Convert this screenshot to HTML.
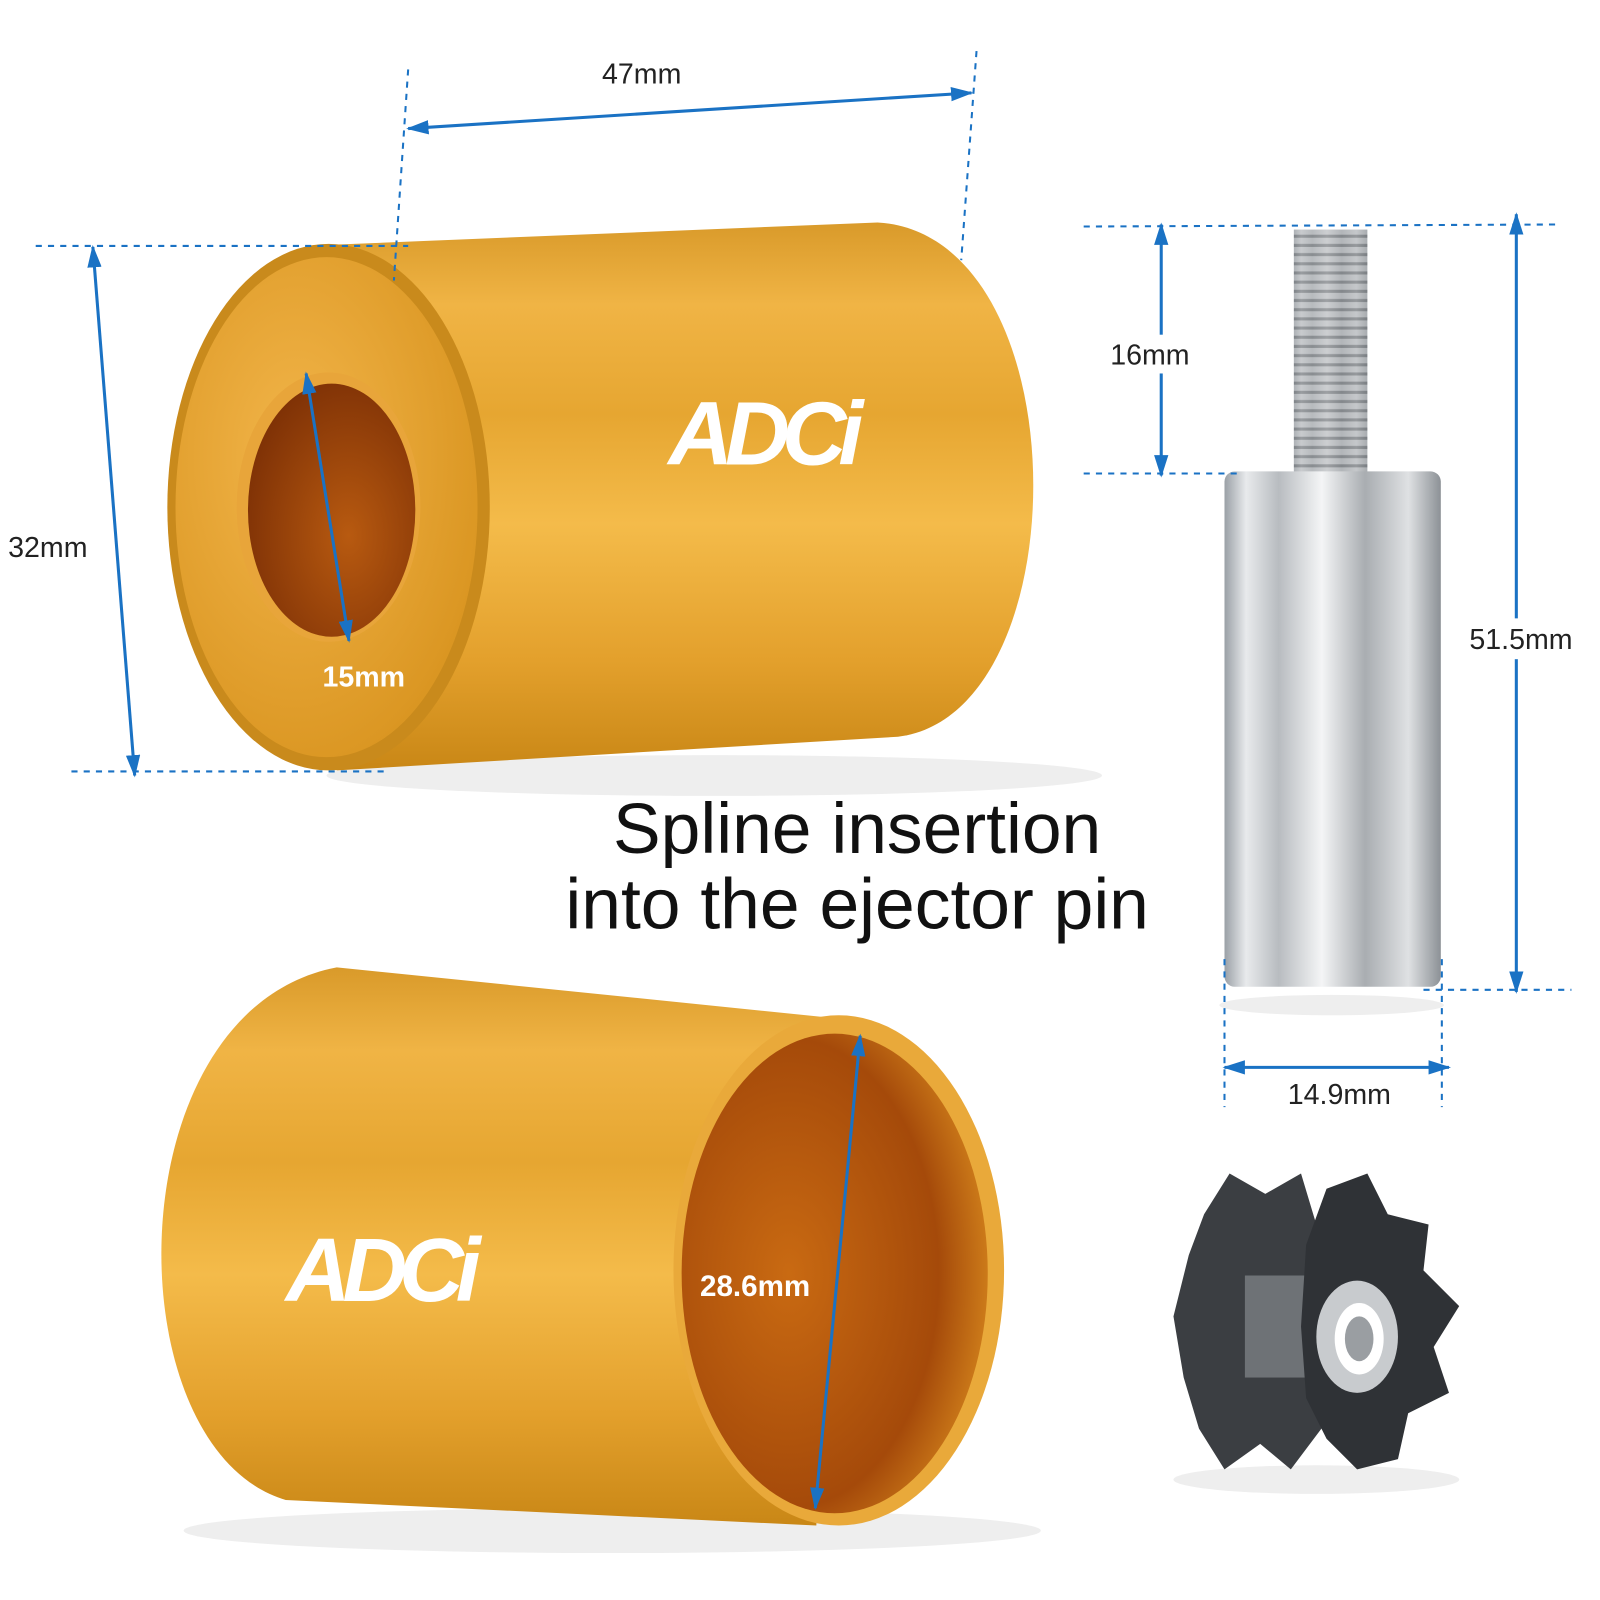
<!DOCTYPE html>
<html><head><meta charset="utf-8"><style>
html,body{margin:0;padding:0;background:#fff;}
svg{display:block}
text{font-family:"Liberation Sans",sans-serif}
</style></head><body>
<svg width="1600" height="1600" viewBox="0 0 1568 1568" xmlns="http://www.w3.org/2000/svg">
<defs>
<linearGradient id="gold" x1="0" y1="0" x2="0" y2="1">
<stop offset="0" stop-color="#d99a2a"/><stop offset="0.15" stop-color="#f0b445"/><stop offset="0.35" stop-color="#e6a631"/><stop offset="0.55" stop-color="#f4bb4a"/><stop offset="0.8" stop-color="#e3a02c"/><stop offset="1" stop-color="#c98716"/>
</linearGradient>
<radialGradient id="face" cx="0.4" cy="0.4" r="0.7">
<stop offset="0" stop-color="#f2b54a"/><stop offset="1" stop-color="#d8931e"/>
</radialGradient>
<radialGradient id="hole" cx="0.6" cy="0.6" r="0.7">
<stop offset="0" stop-color="#b85a10"/><stop offset="1" stop-color="#7a2e05"/>
</radialGradient>
<radialGradient id="inner" cx="0.35" cy="0.5" r="0.7">
<stop offset="0" stop-color="#c96a12"/><stop offset="0.7" stop-color="#a54a0a"/><stop offset="1" stop-color="#d8891e"/>
</radialGradient>
<linearGradient id="silver" x1="0" y1="0" x2="1" y2="0">
<stop offset="0" stop-color="#9aa0a6"/><stop offset="0.1" stop-color="#e8eaec"/><stop offset="0.25" stop-color="#b8bcc0"/><stop offset="0.45" stop-color="#f4f5f6"/><stop offset="0.65" stop-color="#a9adb1"/><stop offset="0.85" stop-color="#dfe1e3"/><stop offset="1" stop-color="#8c9196"/>
</linearGradient>
<pattern id="thr" width="10" height="9" patternUnits="userSpaceOnUse">
<rect width="10" height="9" fill="#b7babd"/><rect y="5" width="10" height="3" fill="#6f7377"/>
</pattern>
<marker id="ar" markerWidth="22" markerHeight="14" refX="20" refY="7" orient="auto-start-reverse" markerUnits="userSpaceOnUse">
<path d="M0,0 L22,7 L0,14 z" fill="#1a72c4"/></marker>
</defs>

<ellipse cx="700" cy="760" rx="380" ry="20" fill="#eee"/>
<path d="M322,240 L860,218 C1060,230 1060,700 880,722 L330,755 z" fill="url(#gold)"/>
<ellipse cx="322" cy="497" rx="158" ry="258" fill="#c98a1c"/>
<ellipse cx="320" cy="497" rx="148" ry="245" fill="url(#face)"/>
<ellipse cx="322" cy="497" rx="90" ry="132" fill="#e8a53a"/>
<ellipse cx="325" cy="500" rx="82" ry="124" fill="url(#hole)"/>
<text x="655" y="455" font-size="88" font-weight="bold" fill="#fff" font-style="italic" letter-spacing="-8">ADCi</text>

<ellipse cx="600" cy="1500" rx="420" ry="22" fill="#eee"/>
<path d="M330,948 L820,998 L800,1495 L280,1470 C110,1420 110,990 330,948 z" fill="url(#gold)"/>
<ellipse cx="822" cy="1245" rx="162" ry="250" fill="#e9a93a"/>
<ellipse cx="818" cy="1248" rx="150" ry="235" fill="url(#inner)"/>
<text x="280" y="1275" font-size="88" font-weight="bold" fill="#fff" font-style="italic" letter-spacing="-8">ADCi</text>

<rect x="1268" y="225" width="72" height="240" fill="url(#thr)"/>
<rect x="1268" y="225" width="72" height="240" fill="url(#silver)" opacity="0.35"/>
<rect x="1200" y="462" width="212" height="505" rx="10" fill="url(#silver)"/>
<ellipse cx="1305" cy="985" rx="110" ry="10" fill="#eee"/>

<ellipse cx="1290" cy="1450" rx="140" ry="14" fill="#eee"/>
<path d="M1180,1190 L1205,1150 L1240,1170 L1275,1150 L1290,1200 L1295,1400 L1265,1440 L1235,1415 L1200,1440 L1175,1400 L1160,1350 L1150,1290 L1165,1230 z" fill="#3b3e42"/>
<rect x="1220" y="1250" width="90" height="100" fill="#6e7276"/>
<path d="M1300,1165 L1340,1150 L1360,1190 L1400,1200 L1395,1245 L1430,1280 L1405,1320 L1420,1365 L1380,1385 L1370,1430 L1330,1440 L1300,1410 L1280,1370 L1275,1300 L1280,1220 z" fill="#2f3236"/>
<ellipse cx="1330" cy="1310" rx="40" ry="55" fill="#c8cbce"/>
<ellipse cx="1332" cy="1312" rx="24" ry="35" fill="#ffffff"/>
<ellipse cx="1332" cy="1312" rx="14" ry="22" fill="#9a9ea2"/>

<g stroke="#1a72c4" stroke-width="2" fill="none" stroke-dasharray="6,6">
<line x1="35" y1="241" x2="400" y2="241"/>
<line x1="70" y1="756" x2="380" y2="756"/>
<line x1="400" y1="68" x2="386" y2="275"/>
<line x1="957" y1="50" x2="942" y2="255"/>
<line x1="1062" y1="222" x2="1525" y2="220"/>
<line x1="1062" y1="464" x2="1215" y2="464"/>
<line x1="1395" y1="970" x2="1540" y2="970"/>
<line x1="1200" y1="940" x2="1200" y2="1085"/>
<line x1="1413" y1="940" x2="1413" y2="1085"/>
</g>
<g stroke="#1a72c4" stroke-width="3" fill="none">
<line x1="400" y1="126" x2="952" y2="91" marker-end="url(#ar)" marker-start="url(#ar)" />
<line x1="91" y1="242" x2="132" y2="760" marker-end="url(#ar)" marker-start="url(#ar)"/>
<line x1="300" y1="366" x2="342" y2="628" marker-end="url(#ar)" marker-start="url(#ar)"/>
<line x1="1138" y1="220" x2="1138" y2="466" marker-end="url(#ar)" marker-start="url(#ar)"/>
<line x1="1486" y1="210" x2="1486" y2="972" marker-end="url(#ar)" marker-start="url(#ar)"/>
<line x1="1200" y1="1046" x2="1420" y2="1046" marker-end="url(#ar)" marker-start="url(#ar)"/>
<line x1="843" y1="1015" x2="799" y2="1478" marker-end="url(#ar)" marker-start="url(#ar)"/>
</g>
<rect x="1085" y="328" width="94" height="38" fill="#fff"/>
<rect x="1437" y="606" width="118" height="40" fill="#fff"/>
<g font-size="28" fill="#222">
<text x="590" y="82">47mm</text>
<text x="8" y="546">32mm</text>
<text x="1088" y="357">16mm</text>
<text x="1440" y="636">51.5mm</text>
<text x="1262" y="1082">14.9mm</text>
</g>
<text x="316" y="673" font-size="28" font-weight="bold" fill="#fff">15mm</text>
<text x="686" y="1270" font-size="29" font-weight="bold" fill="#fff">28.6mm</text>
<text x="840" y="836" font-size="70" fill="#111" text-anchor="middle">Spline insertion</text>
<text x="840" y="910" font-size="70" fill="#111" text-anchor="middle">into the ejector pin</text>
</svg>
</body></html>
